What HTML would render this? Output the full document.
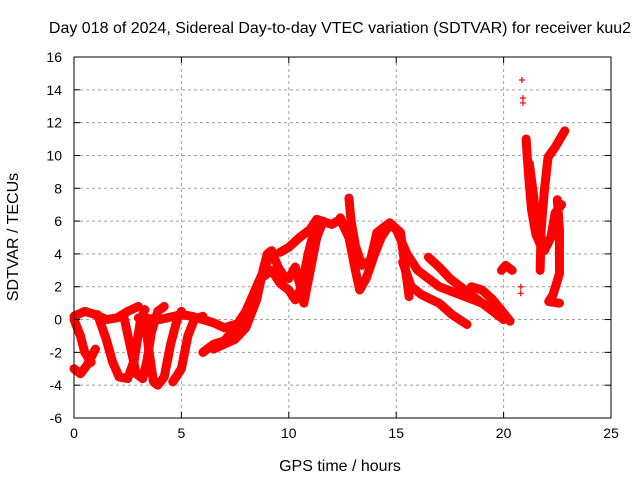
<!DOCTYPE html>
<html><head><meta charset="utf-8"><style>
body{margin:0;background:#fff}
svg text{font-family:"Liberation Sans",sans-serif;font-size:14px;fill:#000}
svg text.big{font-size:16px}
</style></head><body>
<svg id="chart" width="640" height="480">
<text class="big" x="340" y="33" text-anchor="middle">Day 018 of 2024, Sidereal Day-to-day VTEC variation (SDTVAR) for receiver kuu2</text>
<text class="big" x="340" y="471" text-anchor="middle">GPS time / hours</text>
<text class="big" x="0" y="0" transform="translate(18,237) rotate(-90)" text-anchor="middle">SDTVAR / TECUs</text>
<g id="grid"></g><g id="marks"></g><g id="axes"></g>
</svg>
<script>
const xTicks=[0,5,10,15,20,25];
const yTicks=[-6,-4,-2,0,2,4,6,8,10,12,14,16];
const track1=[[0,0.2],[0.5,0.5],[1,0.3],[1.5,0],[2,0.1],[2.5,0.5],[3,0.8]];
const track2=[[0,-3],[0.3,-3.3],[0.6,-2.8],[1,-1.8]];
const track3=[[0,0],[0.3,-1],[0.5,-2],[0.8,-2.6]];
const track4=[[1.1,0.3],[1.5,-1.2],[1.8,-2.6],[2.1,-3.5],[2.5,-3.6],[2.8,-2.5],[3.1,0],[3.3,0.6]];
const track5=[[2.3,0.3],[2.6,-1.5],[2.9,-3.3],[3.2,-3.6],[3.4,-2.5],[3.6,-0.8],[3.9,0.5],[4.2,0.8]];
const track6=[[3.3,0],[3.5,-2],[3.7,-3.8],[3.9,-4],[4.2,-3.5],[4.5,-1.5],[4.8,0],[5,0.5]];
const track7=[[4.6,-3.8],[5,-3],[5.3,-1],[5.6,0],[6,0.2]];
const track8=[[3,0.1],[4,0],[5,0.3],[5.5,0.2],[6,0],[6.5,-0.2],[7,-0.5],[7.5,-0.3]];
const track9=[[6,-2],[6.5,-1.5],[7,-1.3],[7.5,-0.5],[8,0.5],[8.5,2],[9,3.5]];
const track10=[[6.5,-1.8],[7,-1.5],[7.5,-1.2],[8,-0.5],[8.5,1.2],[8.8,3],[9,4],[9.2,4.2],[9.5,3.2],[9.8,2.6],[10,2.5],[10.3,3.2],[10.5,2.2],[10.7,1],[11,3],[11.3,5],[11.6,6]];
const track10b=[[8.3,1],[8.7,2.5],[9.2,3],[9.6,2.2],[10,1.8],[10.3,1.2],[10.6,2],[10.9,4],[11.2,5.5]];
const track11=[[9.6,4.1],[10,4.4],[10.5,5],[11,5.5],[11.3,6.1],[12,5.8],[12.4,6.1],[12.8,5]];
const track12=[[12.4,6.2],[12.8,5],[13.1,3],[13.3,1.8],[13.6,2.5],[14,4],[14.3,5],[14.7,5.8],[15,5.5]];
const track13=[[12.8,7.4],[12.9,6],[13.1,4.5],[13.4,3.3],[13.8,3.6],[14.1,5.3],[14.7,5.9],[15.2,5.3],[15.6,1.4]];
const track14=[[15,5.5],[15.5,4],[16,3],[17,2],[18,1.5],[19,1],[20,0.3]];
const track15=[[16.5,3.8],[17,3.2],[17.5,2.5],[18.5,1.5],[19.5,0.5],[20,0]];
const track16=[[15.3,3.5],[15.7,2],[16.2,1.5],[17,1],[17.6,0.3],[18.3,-0.3]];
const track17=[[18.5,2],[19,1.8],[19.5,1.2],[20,0.4],[20.3,-0.1]];
const track18=[[19.9,3],[20.1,3.3],[20.4,3]];
const track19=[[21.05,11],[21.1,9.9],[21.2,8.2],[21.3,6.7],[21.5,5.2],[21.7,4.6],[21.9,4.8]];
const track20=[[22.85,11.5],[22.4,10.5],[22.07,9.9],[21.9,7.9],[21.75,5.5],[21.7,3]];
const track21=[[22.5,7.3],[22.6,5.5],[22.6,2.8],[22.3,1.5],[22.1,1.1],[22.6,1]];
const track22=[[21.2,9.5],[21.4,7.5],[21.6,5],[21.9,4.2],[22.2,5],[22.4,6.5],[22.7,7]];
const tracks=[track1,track2,track3,track4,track5,track6,track7,track8,track9,track10,track10b,track11,track12,track13,track14,track15,track16,track17,track18,track19,track20,track21,track22];
const singlePts=[[20.85,14.6],[20.9,13.5],[20.9,13.2],[20.8,1.6],[20.8,2]];
const X=h=>74+h*(537/25), Y=v=>57+(16-v)*(361/22);
const ns="http://www.w3.org/2000/svg";
const grid=document.getElementById('grid'),axes=document.getElementById('axes'),marks=document.getElementById('marks');
function mk(tag,a,p){const e=document.createElementNS(ns,tag);for(const k in a)e.setAttribute(k,a[k]);p.appendChild(e);return e;}
xTicks.forEach(t=>{
 if(t>0&&t<25){const g=mk('line',{x1:X(t),x2:X(t),y1:57,y2:418,stroke:'#a0a0a0','stroke-dasharray':'3,3'},grid);
 
 }
 const tx=mk('text',{x:X(t),y:438,'text-anchor':'middle'},axes);tx.textContent=t;
 
 
 mk('line',{x1:X(t),x2:X(t),y1:418,y2:412,stroke:'#000'},axes);
 mk('line',{x1:X(t),x2:X(t),y1:57,y2:63,stroke:'#000'},axes);
});
yTicks.forEach(t=>{
 if(t>-6&&t<16){const g=mk('line',{x1:74,x2:611,y1:Y(t),y2:Y(t),stroke:'#a0a0a0','stroke-dasharray':'3,3'},grid);
 
 }
 const tx=mk('text',{x:62,y:Y(t)+5,'text-anchor':'end'},axes);tx.textContent=t;
 
 
 mk('line',{x1:74,x2:80,y1:Y(t),y2:Y(t),stroke:'#000'},axes);
 mk('line',{x1:605,x2:611,y1:Y(t),y2:Y(t),stroke:'#000'},axes);
});
const fr=mk('rect',{x:74,y:57,width:537,height:361,fill:'none',stroke:'#000'},axes);


tracks.forEach(tr=>{
 const p=mk('polyline',{points:tr.map(d=>X(d[0])+','+Y(d[1])).join(' '),fill:'none',stroke:'#ff0000','stroke-width':9,'stroke-linejoin':'round','stroke-linecap':'round'},marks);
 
 
});
singlePts.forEach(d=>{
 const p=mk('path',{d:`M${X(d[0])-3},${Y(d[1])}h6M${X(d[0])},${Y(d[1])-3}v6`,stroke:'#ff0000','stroke-width':1.2},marks);
 
 
});
</script>
</body></html>
